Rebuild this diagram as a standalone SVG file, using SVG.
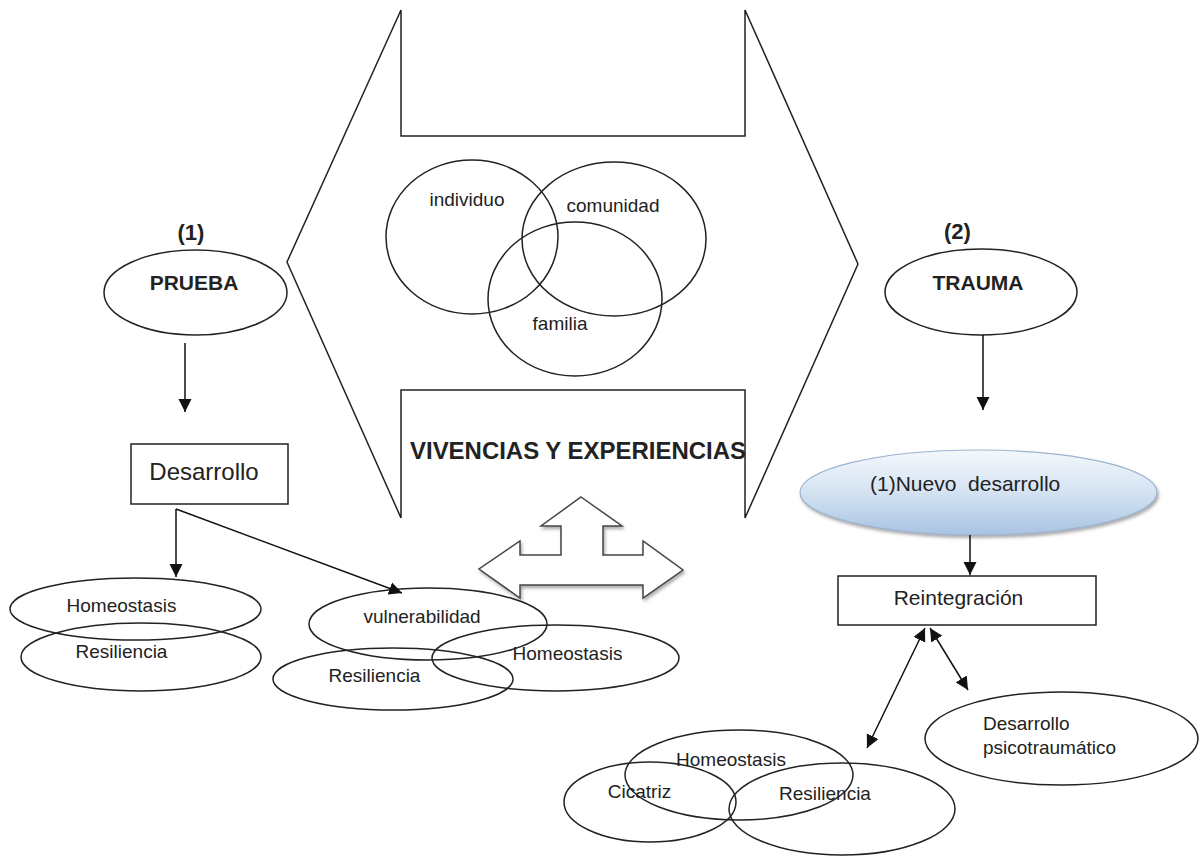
<svg xmlns="http://www.w3.org/2000/svg" width="1202" height="856" viewBox="0 0 1202 856">
<style>
  .ln{fill:none;stroke:#222;stroke-width:1.5}
  .t{font-family:"Liberation Sans",Arial,sans-serif;font-size:19px;fill:#222}
  .c{text-anchor:middle}
  .b{font-weight:bold;font-size:21px}
  .con{fill:none;stroke:#111;stroke-width:1.5}
</style>
<defs>
  <marker id="ah" markerUnits="userSpaceOnUse" markerWidth="14" markerHeight="14" refX="13" refY="6.5" orient="auto-start-reverse" viewBox="0 0 14 13">
    <path d="M0,0 L13,6.5 L0,13 Z" fill="#111"/>
  </marker>
  <linearGradient id="blue" x1="0" y1="0" x2="0" y2="1">
    <stop offset="0" stop-color="#f4f8fc"/>
    <stop offset="0.5" stop-color="#d4e3f2"/>
    <stop offset="1" stop-color="#a9c3e2"/>
  </linearGradient>
  <filter id="sh" x="-10%" y="-10%" width="130%" height="140%">
    <feDropShadow dx="1.5" dy="2.5" stdDeviation="1.5" flood-color="#777" flood-opacity="0.6"/>
  </filter>
</defs>
<rect width="1202" height="856" fill="#fff"/>

<g id="frame">
  <path class="ln" stroke="#333" d="M401,10 L401,136 L745,136 L745,10 L858,264 L745,518 L745,390 L401,390 L401,518 L287,262 Z"/>
  <text class="t" x="410" y="459" style="font-weight:bold;font-size:23px" textLength="336" lengthAdjust="spacingAndGlyphs">VIVENCIAS Y EXPERIENCIAS</text>
</g>

<g id="venn">
  <g id="individuo"><ellipse class="ln" cx="472" cy="237" rx="86" ry="77"/><text class="t c" x="467" y="206">individuo</text></g>
  <g id="comunidad"><ellipse class="ln" cx="614" cy="239" rx="92" ry="77"/><text class="t c" x="613" y="212">comunidad</text></g>
  <g id="familia"><ellipse class="ln" cx="575" cy="299" rx="87" ry="77"/><text class="t c" x="560" y="330">familia</text></g>
</g>

<g id="triple-arrow">
  <path filter="url(#sh)" fill="#fff" stroke="#444" stroke-width="1.5" d="M581,497 L622,526 L603,526 L603,555 L643,555 L643,541 L683,570 L643,598 L643,585 L520,585 L520,598 L479,569 L520,541 L520,555 L561,555 L561,526 L541,526 Z"/>
</g>

<g id="n1-label"><text class="t c b" x="191" y="240" style="font-size:22px">(1)</text></g>
<g id="prueba"><ellipse class="ln" cx="195.5" cy="292.5" rx="91.5" ry="42.5"/><text class="t c b" x="194" y="290">PRUEBA</text></g>
<g id="desarrollo"><rect class="ln" x="131" y="444" width="157" height="60"/><text class="t c" x="204" y="480" style="font-size:24px">Desarrollo</text></g>
<g id="homeostasis1"><ellipse class="ln" cx="135.5" cy="609" rx="125.5" ry="31"/><text class="t c" x="121.5" y="612">Homeostasis</text></g>
<g id="resiliencia1"><ellipse class="ln" cx="141" cy="657" rx="120" ry="34"/><text class="t c" x="121.5" y="658">Resiliencia</text></g>

<g id="vulnerabilidad"><ellipse class="ln" cx="428" cy="624" rx="119" ry="36"/><text class="t c" x="422" y="623">vulnerabilidad</text></g>
<g id="homeostasis2"><ellipse class="ln" cx="555.5" cy="658" rx="123.5" ry="33"/><text class="t c" x="567.5" y="660">Homeostasis</text></g>
<g id="resiliencia2"><ellipse class="ln" cx="393" cy="679" rx="120" ry="31"/><text class="t c" x="374.5" y="682">Resiliencia</text></g>

<g id="n2-label"><text class="t c b" x="957.5" y="239" style="font-size:22px">(2)</text></g>
<g id="trauma"><ellipse class="ln" cx="981" cy="292" rx="96" ry="43"/><text class="t c b" x="978" y="290">TRAUMA</text></g>
<g id="nuevo-desarrollo"><ellipse filter="url(#sh)" fill="url(#blue)" stroke="#9db4d0" stroke-width="1.2" cx="978.5" cy="492.5" rx="178.5" ry="42.5"/><text class="t" x="870" y="491" style="font-size:21px;white-space:pre">(1)Nuevo  desarrollo</text></g>
<g id="reintegracion"><rect class="ln" x="838" y="576" width="258" height="49"/><text class="t c" x="958.5" y="605" style="font-size:21px">Reintegración</text></g>
<g id="desarrollo-psico"><ellipse class="ln" cx="1061.5" cy="738.5" rx="136.5" ry="46.5"/><text class="t" x="983" y="730">Desarrollo</text><text class="t" x="983" y="754">psicotraumático</text></g>

<g id="homeostasis3"><ellipse class="ln" cx="739" cy="775" rx="114" ry="45"/><text class="t c" x="731" y="766">Homeostasis</text></g>
<g id="cicatriz"><ellipse class="ln" cx="650" cy="802" rx="86" ry="40"/><text class="t c" x="639.5" y="798">Cicatriz</text></g>
<g id="resiliencia3"><ellipse class="ln" cx="842" cy="809" rx="113" ry="46"/><text class="t c" x="825" y="800">Resiliencia</text></g>

<g id="connectors">
  <line class="con" x1="185" y1="343" x2="185" y2="412" marker-end="url(#ah)"/>
  <line class="con" x1="176" y1="509" x2="176" y2="577" marker-end="url(#ah)"/>
  <line class="con" x1="176" y1="509" x2="402" y2="593" marker-end="url(#ah)"/>
  <line class="con" x1="983" y1="335" x2="983" y2="410" marker-end="url(#ah)"/>
  <line class="con" x1="970" y1="535" x2="970" y2="575" marker-end="url(#ah)"/>
  <line class="con" x1="925" y1="628" x2="867" y2="748" marker-start="url(#ah)" marker-end="url(#ah)"/>
  <line class="con" x1="930" y1="628" x2="968" y2="690" marker-start="url(#ah)" marker-end="url(#ah)"/>
</g>
</svg>
